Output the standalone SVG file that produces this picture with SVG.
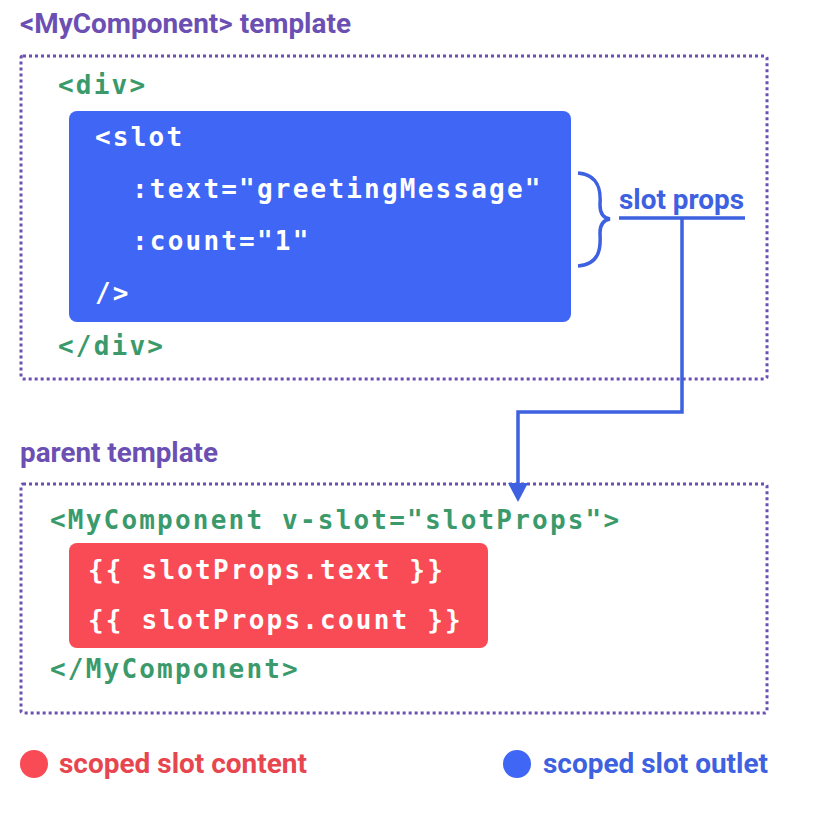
<svg xmlns="http://www.w3.org/2000/svg" width="831" height="840" viewBox="0 0 831 840">
<style>
.title{font-family:Roboto,"Liberation Sans",sans-serif;font-weight:700;font-size:28px;fill:#6b4fb3}
.box{fill:none;stroke:#6b4fb3;stroke-width:3;stroke-dasharray:3 3}
.code{font-family:"DejaVu Sans Mono","Liberation Mono",monospace;font-weight:700;font-size:26px;letter-spacing:2.2px}
.green{fill:#3b9a6b}
.white{fill:#ffffff}
.legend{font-family:Roboto,"Liberation Sans",sans-serif;font-weight:700;font-size:27px}
.conn{fill:none;stroke:#3d61e0;stroke-width:3.5}
</style>
<rect width="831" height="840" fill="#ffffff"/>
<g id="mycomponent-template">
<text class="title" x="20" y="33" textLength="331" lengthAdjust="spacingAndGlyphs">&lt;MyComponent&gt; template</text>
<rect class="box" x="21" y="56" width="746" height="323" rx="2"/>
<text class="code green" x="58" y="94">&lt;div&gt;</text>
<text class="code green" x="58" y="355">&lt;/div&gt;</text>
</g>
<g id="slot-outlet">
<rect x="69" y="111" width="502" height="211" rx="8" fill="#3f66f5"/>
<text class="code white" x="95" y="146">&lt;slot</text>
<text class="code white" x="132" y="198">:text="greetingMessage"</text>
<text class="code white" x="132" y="250">:count="1"</text>
<text class="code white" x="95" y="302">/&gt;</text>
</g>
<g id="slot-props">
<path class="conn" d="M578,173 C604,175 600,200 600,205 C600,213 603,218 610,219 C603,220 600,225 600,233 C600,240 604,264 578,266"/>
<text x="619" y="209" font-family="Roboto,'Liberation Sans',sans-serif" font-weight="700" font-size="27" fill="#3d61e0" textLength="125" lengthAdjust="spacingAndGlyphs">slot props</text>
</g>
<g id="parent-template">
<text class="title" x="20" y="462" textLength="198" lengthAdjust="spacingAndGlyphs">parent template</text>
<rect class="box" x="21" y="484" width="746" height="229" rx="2"/>
<text class="code green" x="50" y="529">&lt;MyComponent v-slot="slotProps"&gt;</text>
<text class="code green" x="50" y="678">&lt;/MyComponent&gt;</text>
</g>
<g id="slot-content">
<rect x="69" y="543" width="419" height="105" rx="8" fill="#f94b55"/>
<text class="code white" x="88" y="579">{{ slotProps.text }}</text>
<text class="code white" x="88" y="629">{{ slotProps.count }}</text>
</g>
<g id="connectors">
<path class="conn" d="M619,218 L745,218 M682,218 L682,412 L518,412 L518,486"/>
<polygon points="508,483 528,483 518,502" fill="#3d61e0"/>
</g>
<g id="legend">
<circle cx="34" cy="764" r="14" fill="#f94b55"/>
<text class="legend" x="59" y="773" fill="#e8464f" textLength="248" lengthAdjust="spacingAndGlyphs">scoped slot content</text>
<circle cx="517" cy="764" r="14" fill="#3f66f5"/>
<text class="legend" x="543" y="773" fill="#3d61e0" textLength="225" lengthAdjust="spacingAndGlyphs">scoped slot outlet</text>
</g>
</svg>
